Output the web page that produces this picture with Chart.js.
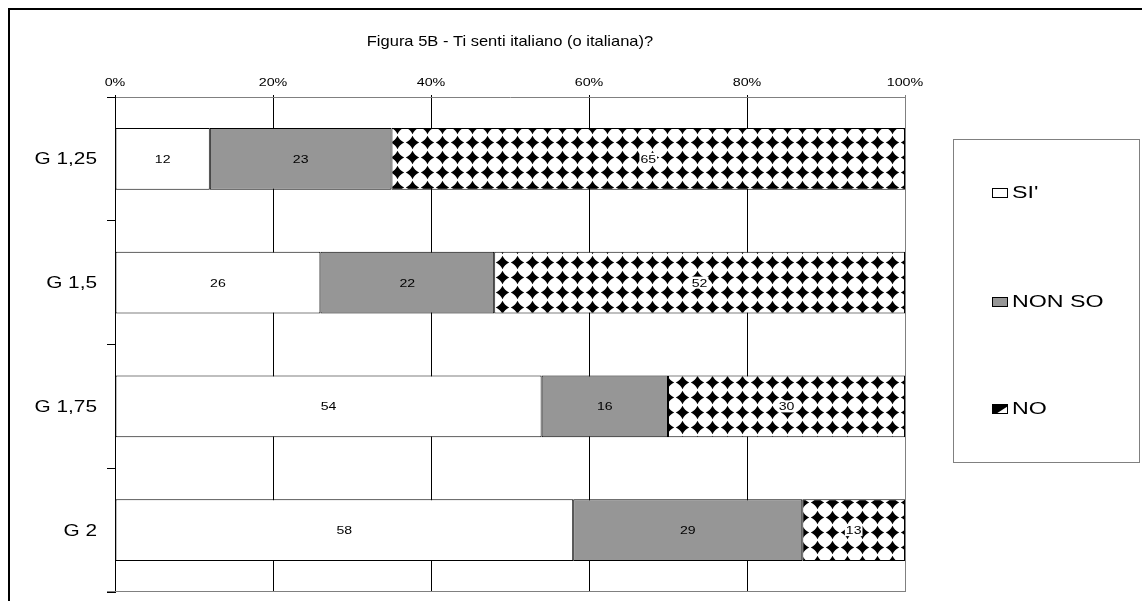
<!DOCTYPE html>
<html>
<head>
<meta charset="utf-8">
<script src="https://cdn.jsdelivr.net/npm/chart.js@4"></script>
<style>
  body { margin: 0; background: #fff; overflow: hidden; }
</style>
</head>
<body>
<canvas id="grafico" width="1142" height="601"></canvas>
<script>
const categorie = ['G 1,25', 'G 1,5', 'G 1,75', 'G 2'];
const si = [12, 26, 54, 58];
const nonSo = [23, 22, 16, 29];
const no = [65, 52, 30, 13];
const etichetteSerie = ["SI'", 'NON SO', 'NO'];
const titolo = 'Figura 5B - Ti senti italiano (o italiana)?';

const FONT = '"Liberation Sans", Arial, sans-serif';

// il testo nell'originale e' un po' "allargato" in orizzontale
function testo(ctx, txt, x, y, size, stretch, align){
    ctx.save();
    ctx.font = size + 'px ' + FONT;
    ctx.textBaseline = 'middle';
    ctx.textAlign = align;
    ctx.fillStyle = '#000';
    ctx.translate(x, y);
    ctx.scale(stretch, 1);
    ctx.fillText(txt, 0, 0);
    ctx.restore();
}

// motivo a rombi per la serie NO
function motivoRombi(){
    let c = document.createElement('canvas');
    c.width = 15; c.height = 15;
    let g = c.getContext('2d');
    g.fillStyle = '#fff';
    g.fillRect(0, 0, 15, 15);
    g.fillStyle = '#000';
    g.beginPath();
    g.moveTo(7.5, 0.8);
    g.quadraticCurveTo(9.6, 5.4, 14.2, 7.5);
    g.quadraticCurveTo(9.6, 9.6, 7.5, 14.2);
    g.quadraticCurveTo(5.4, 9.6, 0.8, 7.5);
    g.quadraticCurveTo(5.4, 5.4, 7.5, 0.8);
    g.fill();
    return g.createPattern(c, 'repeat');
}

const grigio = '#969696';
const rombi = motivoRombi();

const decorazioni = {
    id: 'decorazioni',
    beforeDraw(chart){
        let ctx = chart.ctx;
        ctx.save();
        ctx.fillStyle = '#fff';
        ctx.fillRect(0, 0, chart.width, chart.height);
        ctx.strokeStyle = '#000';
        ctx.lineWidth = 2;
        ctx.beginPath();
        ctx.moveTo(9, chart.height);
        ctx.lineTo(9, 9);
        ctx.lineTo(chart.width, 9);
        ctx.stroke();
        ctx.restore();
    },
    afterDatasetsDraw(chart){
        let ctx = chart.ctx;
        let area = chart.chartArea;
        ctx.save();
        // bordo inferiore dell'area
        let yb = Math.round(area.bottom) - 0.5;
        ctx.strokeStyle = '#808080';
        ctx.lineWidth = 1;
        ctx.beginPath();
        ctx.moveTo(area.left - 8, yb);
        ctx.lineTo(area.right, yb);
        ctx.stroke();

        // etichette dei valori
        chart.data.datasets.forEach((ds, i) => {
            let meta = chart.getDatasetMeta(i);
            meta.data.forEach((bar, j) => {
                let x = (bar.x + bar.base) / 2;
                let y = bar.y;
                let txt = String(ds.data[j]);
                if (i === 2) {
                    ctx.font = '11px ' + FONT;
                    let w = ctx.measureText(txt).width * 1.28;
                    ctx.fillStyle = '#fff';
                    ctx.fillRect(x - w / 2 - 1, y - 6, w + 2, 12);
                }
                testo(ctx, txt, x, y + 1, 11, 1.28, 'center');
            });
        });
        ctx.restore();
    },
    afterDraw(chart){
        let ctx = chart.ctx;
        let area = chart.chartArea;
        let sx = chart.scales.x, sy = chart.scales.y;

        testo(ctx, titolo, (area.left + area.right) / 2, 42, 15, 1.1, 'center');

        // etichette degli assi
        sx.ticks.forEach(t => {
            testo(ctx, t.value + '%', sx.getPixelForValue(t.value), 83, 11, 1.3, 'center');
        });
        categorie.forEach((c, k) => {
            testo(ctx, c, 97, sy.getPixelForValue(k) + 1, 16, 1.3, 'right');
        });

        // legenda
        ctx.save();
        ctx.strokeStyle = '#808080';
        ctx.lineWidth = 1;
        ctx.strokeRect(953.5, 139.5, 186, 323);
        let posY = [193, 302, 409];
        let riempimenti = ['#fff', grigio, null];
        posY.forEach((py, k) => {
            let bx = 992.5, by = py - 4.5, bw = 15, bh = 9;
            if (riempimenti[k]) {
                ctx.fillStyle = riempimenti[k];
                ctx.fillRect(bx, by, bw, bh);
            } else {
                ctx.fillStyle = '#000';
                ctx.fillRect(bx, by, bw, bh);
                ctx.fillStyle = '#fff';
                ctx.beginPath();
                ctx.moveTo(bx + bw, by + 2);
                ctx.lineTo(bx + bw, by + bh);
                ctx.lineTo(bx + 4, by + bh);
                ctx.closePath();
                ctx.fill();
            }
            ctx.strokeStyle = '#000';
            ctx.strokeRect(bx, by, bw, bh);
            testo(ctx, etichetteSerie[k], 1012, py + 1, 16, 1.45, 'left');
        });
        ctx.restore();
    }
};

let ctx = document.getElementById('grafico').getContext('2d');
let grafico = new Chart(ctx, {
    type: 'bar',
    data: {
        labels: categorie,
        datasets: [{
            label: etichetteSerie[0],
            data: si,
            backgroundColor: '#fff',
            borderColor: '#000',
            borderWidth: 1,
            borderSkipped: false
        }, {
            label: etichetteSerie[1],
            data: nonSo,
            backgroundColor: grigio,
            borderColor: '#000',
            borderWidth: 1,
            borderSkipped: false
        }, {
            label: etichetteSerie[2],
            data: no,
            backgroundColor: rombi,
            borderColor: '#000',
            borderWidth: 1,
            borderSkipped: false
        }]
    },
    options: {
        indexAxis: 'y',
        responsive: false,
        animation: false,
        devicePixelRatio: 1,
        categoryPercentage: 1,
        barPercentage: 0.5,
        layout: { padding: { top: 0, left: 0, right: 237, bottom: 9 } },
        plugins: {
            legend: { display: false },
            title: { display: false },
            tooltip: { enabled: false }
        },
        scales: {
            x: {
                position: 'top',
                stacked: true,
                min: 0,
                max: 100,
                afterFit(scale){
                    scale.height = 97;
                    scale.paddingLeft = 0;
                    scale.paddingRight = 0;
                },
                ticks: { stepSize: 20, display: false },
                grid: {
                    color: c => (c.tick && c.tick.value === 100) ? '#808080' : '#000',
                    lineWidth: 1,
                    tickLength: 2
                },
                border: { display: true, color: '#808080', width: 1 }
            },
            y: {
                stacked: true,
                afterFit(scale){
                    scale.width = 115;
                    scale.paddingTop = 0;
                    scale.paddingBottom = 0;
                },
                ticks: { display: false },
                grid: {
                    offset: true,
                    drawOnChartArea: false,
                    drawTicks: true,
                    tickLength: 8,
                    color: '#000'
                },
                border: { display: true, color: '#000', width: 1 }
            }
        }
    },
    plugins: [decorazioni]
});
</script>
</body>
</html>
